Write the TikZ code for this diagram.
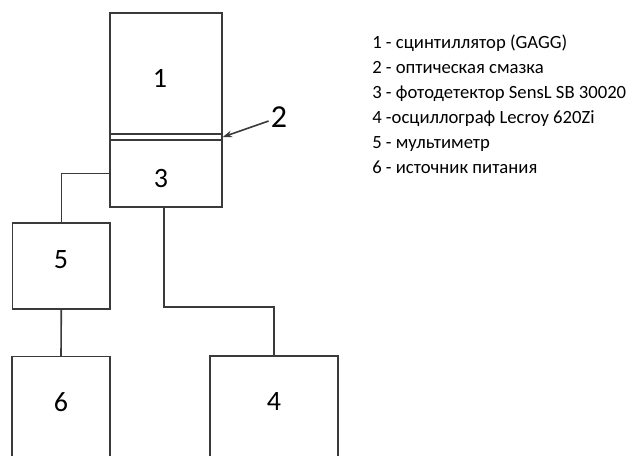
\documentclass[tikz,border=0pt]{standalone}
\usepackage{fontspec}
\setmainfont{Carlito}
\usetikzlibrary{arrows.meta,calc}
\definecolor{ln}{HTML}{3A3A3A}
\begin{document}
\begin{tikzpicture}[x=0.75pt,y=-0.75pt,
  box/.style={draw=ln,line width=1.2pt,rectangle,inner sep=0pt},
  wire/.style={draw=ln,line width=1.2pt},
  num/.style={font=\fontsize{21}{25}\selectfont,inner sep=0pt},
  leg/.style={font=\fontsize{14}{17}\selectfont,anchor=base west,inner sep=0pt}]
\useasboundingbox (0,0) rectangle (630,455);
\clip (0,0) rectangle (630,455);
% boxes
\node[box,minimum width=84pt,minimum height=90.75pt] (b1) at (166,73.5) {};
\node[box,minimum width=84pt,minimum height=4.5pt] (b2) at (166,137) {};
\node[box,minimum width=84pt,minimum height=50.25pt] (b3) at (166,173.5) {};
\node[box,minimum width=73pt,minimum height=64.5pt] (b5) at (61.3,266) {};
\node[box,minimum width=73.5pt,minimum height=86pt] (b6) at (61,414) {};
\node[box,minimum width=96pt,minimum height=86pt] (b4) at (274,413.5) {};
% numbers
\node[num] (t1) at (160,78) {1};
\node[num] (t3) at (161,178) {3};
\node[num] (t5) at (61,260) {5};
\node[num] (t6) at (61,402) {6};
\node[num] (t4) at (274,401) {4};
\node[num,font=\fontsize{24}{28}\selectfont] (t2) at (279,117) {2};
% connectors
\draw[wire] (b3.west) -| (b5.north);
\draw[wire] (b5.south) -- (b6.north);
\coordinate (k1) at ($(b3.south)+(-2,99)$);
\draw[wire] ($(b3.south)+(-2,0)$) -- (k1) -| (b4.north);
\draw[wire,-{Stealth[length=7pt,width=5pt]}] ($(t2.west)+(-2,4)$) -- (b2.east);
% legend
\node[leg] (l1) at (372,48) {1 - сцинтиллятор (GAGG)};
\node[leg] (l2) at (372,73) {2 - оптическая смазка};
\node[leg] (l3) at (372,98) {3 - фотодетектор SensL SB 30020};
\node[leg] (l4) at (372,123) {4 -осциллограф Lecroy 620Zi};
\node[leg] (l5) at (372,148) {5 - мультиметр};
\node[leg] (l6) at (372,173) {6 - источник питания};
\end{tikzpicture}
\end{document}
